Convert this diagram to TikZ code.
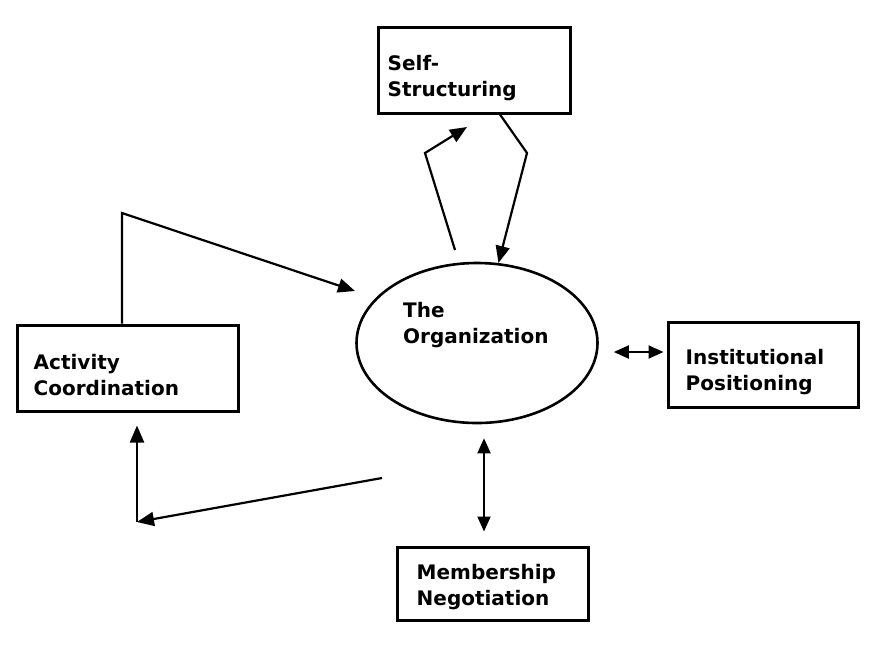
\documentclass[tikz,border=0pt]{standalone}
\usepackage{fontspec}
\setmainfont{DejaVu Sans}
\usetikzlibrary{arrows.meta,shapes.geometric}
\begin{document}
\begin{tikzpicture}[x=1pt,y=-1pt,
  txt/.style={font=\bfseries\fontsize{20}{26}\selectfont,align=left,inner sep=0pt,anchor=north west},
  box/.style={draw,line width=3pt,rectangle,inner sep=0pt},
  conn/.style={line width=2.2pt,-{Triangle[length=17pt,width=14pt]}},
  dconn/.style={line width=2pt,{Triangle[length=15pt,width=13pt]}-{Triangle[length=15pt,width=13pt]}}]
\useasboundingbox (0,0) rectangle (877,649);
% boxes
\node[box,minimum width=192pt,minimum height=86pt] (self) at (474,70) {};
\node[box,minimum width=221pt,minimum height=86pt] (act) at (127.5,368) {};
\node[box,minimum width=190pt,minimum height=85pt] (inst) at (763,364.5) {};
\node[box,minimum width=191pt,minimum height=73pt] (memb) at (492.5,583.5) {};
\node[draw,ellipse,line width=2.6pt,minimum width=241pt,minimum height=160pt,inner sep=0pt] (org) at (477,343) {};
% texts
\node[txt] (selftext) at ([shift={(11,30)}]self.north west) {Self-\\Structuring};
\node[txt] (acttext) at ([shift={(18,31)}]act.north west) {Activity\\Coordination};
\node[txt] (insttext) at ([shift={(19,29)}]inst.north west) {Institutional\\Positioning};
\node[txt] (membtext) at ([shift={(21,19)}]memb.north west) {Membership\\Negotiation};
\node[txt] (orgtext) at (403,302) {The\\Organization};
% self-structuring loop
\coordinate (s1) at (455,250);
\coordinate (s2) at (425,153);
\coordinate (s3) at (467,127);
\coordinate (s4) at (527,153);
\draw[conn] (s1) -- (s2) -- (s3);
\draw[conn] ([shift={(26,0)}]self.south) -- (s4) -- (org.75);
% activity coordination loop
\coordinate (a1) at (122,213);
\coordinate (a2) at (355,291);
\draw[conn] ([shift={(-5.5,0)}]act.north) -- (a1) -- (a2);
\coordinate (b0) at (382,478);
\coordinate (b1) at (137,522);
\draw[conn] (b0) -- (b1);
\draw[conn,shorten >=13pt] (b1) -- ([shift={(9.5,0)}]act.south);
% double arrows
\draw[dconn] ([shift={(15,9)}]org.east) -- ([shift={(-3,-12.5)}]inst.west);
\draw[dconn] ([shift={(7,14)}]org.south) -- ([shift={(-8.5,-14)}]memb.north);
\end{tikzpicture}
\end{document}
